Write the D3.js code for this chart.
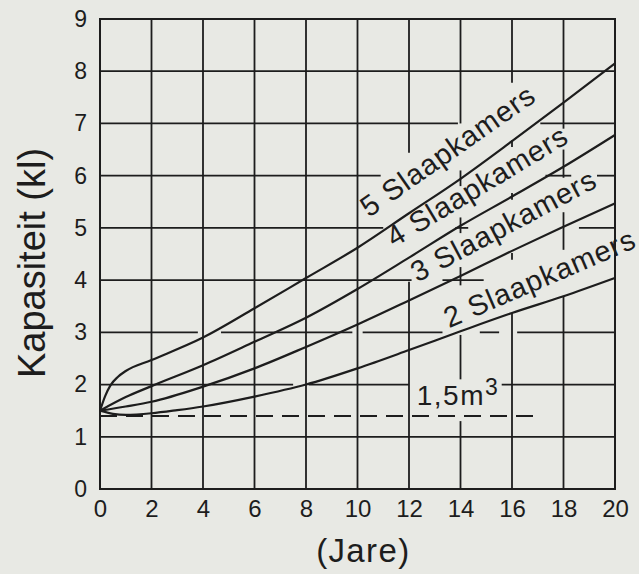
<!DOCTYPE html>
<html>
<head>
<meta charset="utf-8">
<script src="https://cdn.jsdelivr.net/npm/d3@7"></script>
<style>
  html, body { margin: 0; padding: 0; background: #e8e9e4; }
  svg { display: block; font-family: "Liberation Sans", Arial, sans-serif; }
</style>
</head>
<body>
<div id="chart"></div>
<script>
// data (jare -> kapasiteit in kl)
let yearsTicks = [0, 2, 4, 6, 8, 10, 12, 14, 16, 18, 20];
let capTicks = [0, 1, 2, 3, 4, 5, 6, 7, 8, 9];

let years5 = [0, 0.2, 0.4, 0.7, 1, 2, 4, 6, 8, 10, 12, 14, 16, 18, 20];
let cap5 = [1.5, 1.78, 1.98, 2.15, 2.26, 2.47, 2.9, 3.46, 4.04, 4.62, 5.28, 5.94, 6.66, 7.4, 8.15];

let years4 = [0, 1, 2, 4, 6, 8, 10, 12, 14, 16, 18, 20];
let cap4 = [1.5, 1.76, 1.97, 2.37, 2.82, 3.28, 3.83, 4.43, 5.04, 5.6, 6.17, 6.78];

let years3 = [0, 1, 2, 4, 6, 8, 10, 12, 14, 16, 18, 20];
let cap3 = [1.5, 1.58, 1.67, 1.96, 2.31, 2.72, 3.15, 3.61, 4.08, 4.56, 5.02, 5.47];

let years2 = [0, 0.5, 1, 2, 3, 4, 6, 8, 10, 12, 14, 16, 18, 20];
let cap2 = [1.5, 1.44, 1.42, 1.45, 1.51, 1.58, 1.77, 2.0, 2.31, 2.66, 3.02, 3.37, 3.69, 4.04];

let seriesNames = ["5 Slaapkamers", "4 Slaapkamers", "3 Slaapkamers", "2 Slaapkamers"];
let minLevel = 1.4;          // 1,5 m3 stippellyn
let minLevelEnd = 17;

// visible pieces of the grid lines (the rest is blank behind the labels)
let hGridLevels = [1, 2, 3, 4, 5, 6, 7, 8];
let hGridPieces = [
    [[0, 20]],
    [[0, 7.5], [8.1, 12.0], [15.6, 20]],
    [[0, 3.8], [4.7, 9.8], [10.2, 13.3], [14.75, 15.5], [16.2, 20]],
    [[0, 12.1], [13.3, 14.9]],
    [[0, 11.0], [13.8, 14.3], [18.6, 20]],
    [[0, 10.9], [17.3, 18.3], [19.3, 20]],
    [[0, 13.9], [17.1, 20]],
    [[0, 20]]
];
let vGridYears = [2, 4, 6, 8, 10, 12, 14, 16, 18];
let vGridPieces = [
    [[0, 9]], [[0, 9]], [[0, 9]], [[0, 9]], [[0, 9]],
    [[0, 3.97], [6.44, 9]],
    [[0, 1.3], [2.1, 2.95], [3.9, 4.25], [4.9, 5.2], [5.8, 6.1], [7.0, 9]],
    [[0, 3.37], [4.39, 4.52], [5.54, 5.67], [6.55, 6.68], [7.78, 9]],
    [[0, 3.7], [4.58, 5.3], [5.96, 6.5], [6.9, 9]]
];

let margin = {top: 19, right: 24, bottom: 85, left: 100};
let width = 639 - margin.left - margin.right;
let height = 574 - margin.top - margin.bottom;

let svg = d3.select("#chart").append("svg")
    .attr("width", 639)
    .attr("height", 574)
    .append("g")
    .attr("transform", "translate(" + margin.left + "," + margin.top + ")");

let x = d3.scaleLinear().domain([0, 20]).range([0, width]);
let y = d3.scaleLinear().domain([0, 9]).range([height, 0]);

let ink = "#1d1d1d";

// horizontal grid
hGridLevels.forEach(function (lv, i) {
    hGridPieces[i].forEach(function (p) {
        svg.append("line")
            .attr("x1", x(p[0])).attr("x2", x(p[1]))
            .attr("y1", y(lv)).attr("y2", y(lv))
            .attr("stroke", ink).attr("stroke-width", 1.8);
    });
});

// vertical grid
vGridYears.forEach(function (yr, i) {
    vGridPieces[i].forEach(function (p) {
        svg.append("line")
            .attr("x1", x(yr)).attr("x2", x(yr))
            .attr("y1", y(p[0])).attr("y2", y(p[1]))
            .attr("stroke", ink).attr("stroke-width", 1.8);
    });
});

// frame
svg.append("rect")
    .attr("x", 0).attr("y", 0)
    .attr("width", width).attr("height", height)
    .attr("fill", "none").attr("stroke", ink).attr("stroke-width", 2);

// axes (labels only)
let xAxis = svg.append("g")
    .attr("transform", "translate(0," + height + ")")
    .call(d3.axisBottom(x).tickValues(yearsTicks).tickSize(0).tickFormat(d3.format("d")));
xAxis.select(".domain").remove();
xAxis.selectAll("text")
    .attr("y", 28).attr("dy", null)
    .attr("font-size", 24).attr("fill", ink)
    .attr("font-family", "Liberation Sans, Arial, sans-serif");

let yAxis = svg.append("g")
    .call(d3.axisLeft(y).tickValues(capTicks).tickSize(0).tickPadding(13).tickFormat(d3.format("d")));
yAxis.select(".domain").remove();
yAxis.selectAll("text")
    .attr("font-size", 23).attr("fill", ink)
    .attr("font-family", "Liberation Sans, Arial, sans-serif");

// dashed 1,5 m3 line
svg.append("line")
    .attr("x1", x(0)).attr("x2", x(minLevelEnd))
    .attr("y1", y(minLevel)).attr("y2", y(minLevel))
    .attr("stroke", ink).attr("stroke-width", 2)
    .attr("stroke-dasharray", "17,9");

// curves
let line = d3.line()
    .x(function (d) { return x(d[0]); })
    .y(function (d) { return y(d[1]); })
    .curve(d3.curveMonotoneX);

[[years5, cap5], [years4, cap4], [years3, cap3], [years2, cap2]].forEach(function (s) {
    svg.append("path")
        .datum(d3.zip(s[0], s[1]))
        .attr("fill", "none")
        .attr("stroke", ink)
        .attr("stroke-width", 2.2)
        .attr("d", line);
});

// curve labels
let labelPos = [[10.45, 5.19, -35], [11.42, 4.62, -31], [12.32, 3.95, -28], [13.55, 3.08, -23.3]];
seriesNames.forEach(function (name, i) {
    let p = labelPos[i];
    svg.append("text")
        .attr("transform", "translate(" + x(p[0]) + "," + y(p[1]) + ") rotate(" + p[2] + ")")
        .attr("font-size", 29)
        .attr("fill", ink)
        .attr("textLength", 205)
        .attr("lengthAdjust", "spacing")
        .text(name);
});

// 1,5 m3 label
let mLabel = svg.append("text")
    .attr("x", x(12.3)).attr("y", y(1.61))
    .attr("font-size", 28)
    .attr("fill", ink)
    .attr("letter-spacing", 1.5);
mLabel.append("tspan").text("1,5m");
mLabel.append("tspan").attr("dy", -10).attr("font-size", 23).text("3");

// axis titles
svg.append("text")
    .attr("transform", "translate(" + (-55) + "," + 244 + ") rotate(-90)")
    .attr("text-anchor", "middle")
    .attr("font-size", 38)
    .attr("fill", ink)
    .text("Kapasiteit (kl)");

svg.append("text")
    .attr("x", x(10.2)).attr("y", height + 73)
    .attr("text-anchor", "middle")
    .attr("font-size", 33)
    .attr("fill", ink)
    .attr("textLength", 93)
    .attr("lengthAdjust", "spacing")
    .text("(Jare)");
</script>
</body>
</html>
